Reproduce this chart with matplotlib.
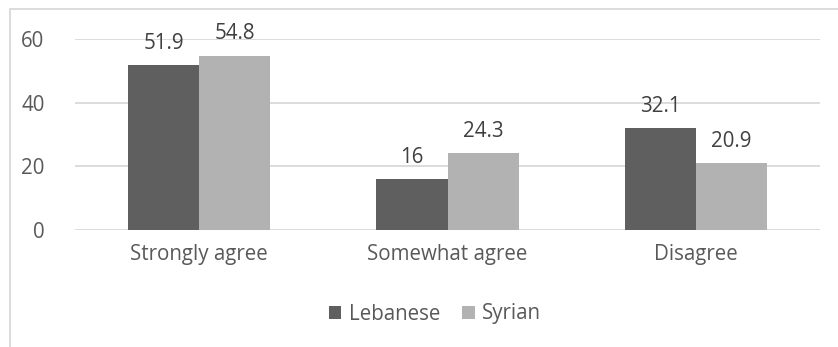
import matplotlib
matplotlib.use("Agg")
import matplotlib.pyplot as plt
import numpy as np
from matplotlib.patches import Rectangle

# 数据
categories = ['Strongly agree', 'Somewhat agree', 'Disagree']
lebanese = [51.9, 16, 32.1]
syrian = [54.8, 24.3, 20.9]
lebanese_labels = ['51.9', '16', '32.1']
syrian_labels = ['54.8', '24.3', '20.9']

plt.rcParams['font.family'] = ['Open Sans', 'DejaVu Sans']
text_color = '#595959'
fs = 14.8

fig = plt.figure(figsize=(8.38, 3.47), dpi=100)
ax = fig.add_axes([75 / 838, 1 - 230 / 347, 745 / 838, 191 / 347])

# 图表外框
fig.patches.append(Rectangle((10 / 838, -0.1), 1.1, 1 - 9 / 347 + 0.1,
                             transform=fig.transFigure, fill=False,
                             edgecolor='#d9d9d9', linewidth=1.3))

x = np.arange(len(categories))
w = 0.286
b1 = ax.bar(x - w / 2, lebanese, w, color='#5f5f5f', label='Lebanese')
b2 = ax.bar(x + w / 2, syrian, w, color='#b2b2b2', label='Syrian')

ax.bar_label(b1, labels=lebanese_labels, padding=8, fontsize=fs, color='#404040')
ax.bar_label(b2, labels=syrian_labels, padding=8, fontsize=fs, color='#404040')

ax.set_xlim(-0.5, 2.5)
ax.set_ylim(0, 60)
ax.set_yticks([0, 20, 40, 60])
ax.set_xticks(x)
ax.set_xticklabels(categories)
ax.grid(axis='y', color='#d9d9d9', linewidth=1.3)
ax.set_axisbelow(True)
for s in ax.spines.values():
    s.set_visible(False)
ax.tick_params(axis='both', length=0, labelsize=fs, labelcolor=text_color)
ax.tick_params(axis='y', pad=22)
ax.tick_params(axis='x', pad=10)

ax.legend(loc='center', bbox_to_anchor=(435 / 838, 1 - 314 / 347),
          bbox_transform=fig.transFigure, ncol=2, frameon=False,
          fontsize=fs, labelcolor=text_color, handlelength=0.6,
          handleheight=0.6, handletextpad=0.35, columnspacing=1.1)

fig.savefig('out.png', dpi=100)
